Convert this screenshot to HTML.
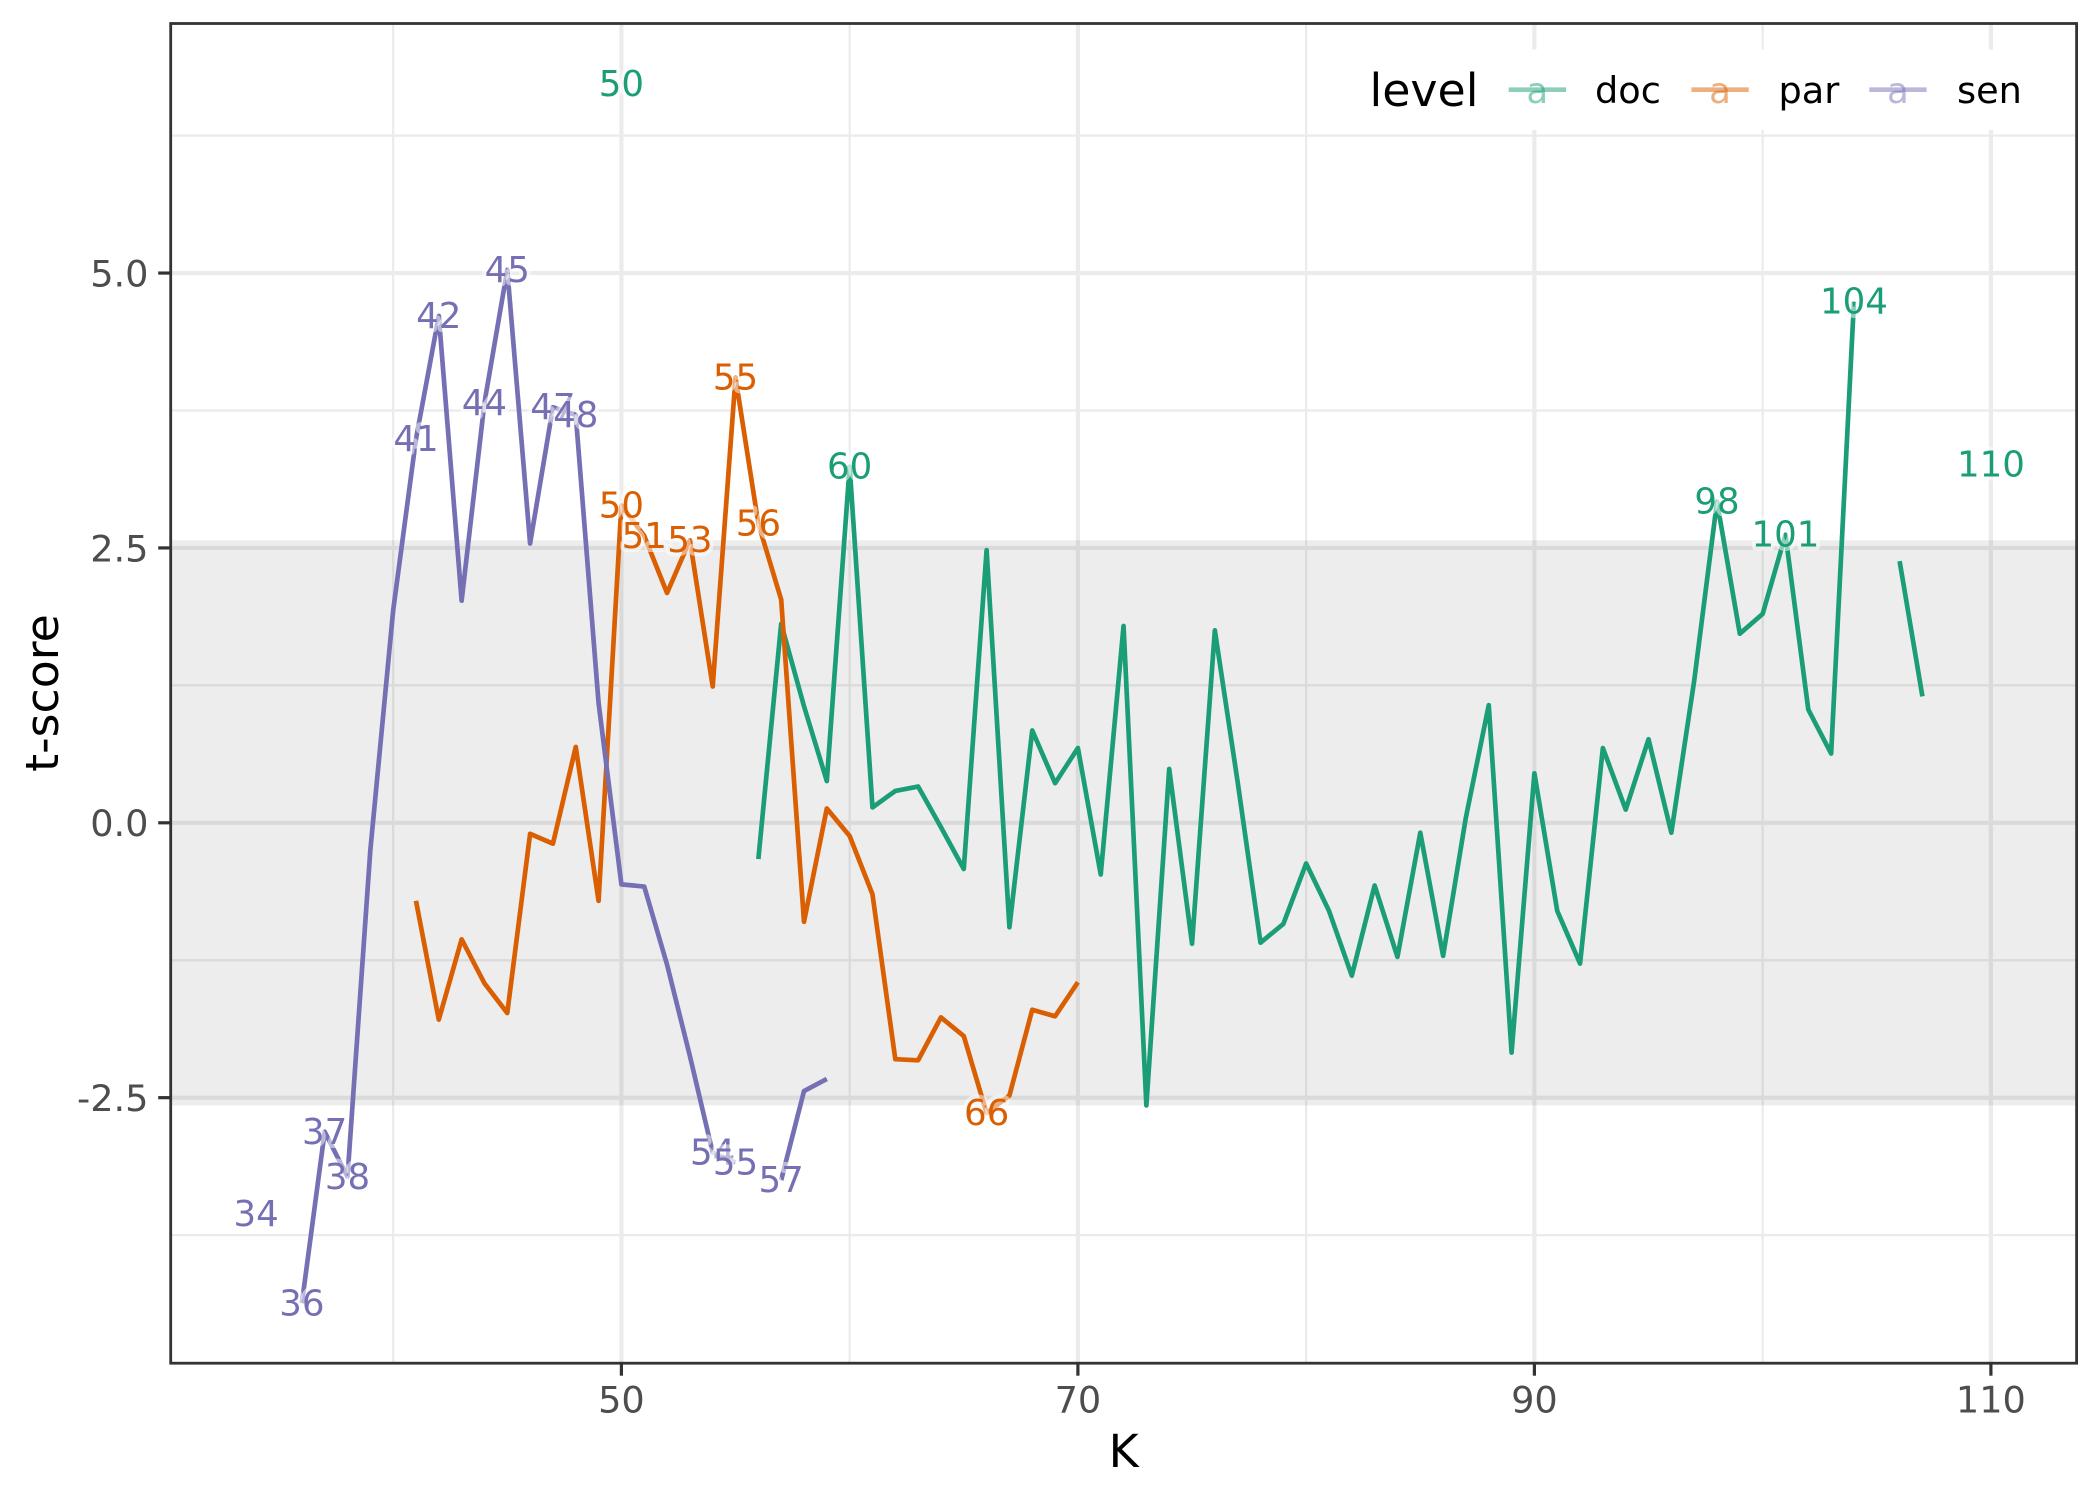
<!DOCTYPE html>
<html>
<head>
<meta charset="utf-8">
<title>t-score by K</title>
<style>
html,body{margin:0;padding:0;background:#fff;}
svg{display:block;font-family:"DejaVu Sans","Liberation Sans",sans-serif;}
</style>
</head>
<body>
<svg id="chart" xmlns="http://www.w3.org/2000/svg" width="2100" height="1500" viewBox="0 0 2100 1500"></svg>
<script>
const xTicks = [50, 70, 90, 110];
const xTickLabels = ['50', '70', '90', '110'];
const xMinor = [40, 60, 80, 100];
const yTicks = [-2.5, 0, 2.5, 5];
const yTickLabels = ['-2.5', '0.0', '2.5', '5.0'];
const yMinor = [-3.75, -1.25, 1.25, 3.75, 6.25];
const bandLimit = [-2.57, 2.57];

const docK = [50,56,57,58,59,60,61,62,63,64,65,66,67,68,69,70,71,72,73,74,75,76,77,78,79,80,81,82,83,84,85,86,87,88,89,90,91,92,93,94,95,96,97,98,99,100,101,102,103,104,106,107,110];
const docT = [6.72,-0.33,1.81,1.06,0.38,3.24,0.14,0.29,0.33,-0.04,-0.42,2.48,-0.95,0.84,0.36,0.68,-0.47,1.79,-2.57,0.49,-1.10,1.75,0.37,-1.09,-0.92,-0.37,-0.80,-1.39,-0.57,-1.22,-0.09,-1.21,0.05,1.07,-2.09,0.45,-0.80,-1.28,0.68,0.12,0.76,-0.09,1.29,2.92,1.72,1.90,2.62,1.03,0.63,4.74,2.38,1.15,3.26];
const docLabelK = [50,60,98,101,104,110];

const parK = [41,42,43,44,45,46,47,48,49,50,51,52,53,54,55,56,57,58,59,60,61,62,63,64,65,66,67,68,69,70];
const parT = [-0.71,-1.79,-1.06,-1.46,-1.73,-0.10,-0.19,0.69,-0.71,2.885,2.61,2.09,2.57,1.24,4.05,2.72,2.03,-0.90,0.13,-0.12,-0.65,-2.15,-2.16,-1.77,-1.94,-2.64,-2.48,-1.70,-1.76,-1.45];
const parLabelK = [50,51,53,55,56,66];

const senK = [34,36,37,38,39,40,41,42,43,44,45,46,47,48,49,50,51,52,53,54,55,57,58,59];
const senT = [-3.56,-4.37,-2.81,-3.22,-0.25,1.93,3.49,4.61,2.02,3.82,5.03,2.54,3.78,3.71,1.09,-0.56,-0.58,-1.29,-2.12,-3.00,-3.09,-3.25,-2.44,-2.33];
const senLabelK = [34,36,37,38,41,42,44,45,47,48,54,55,57];

const seriesNames = ['doc', 'par', 'sen'];
const seriesColors = ['#1B9E77', '#D95F02', '#7570B3'];

const NS = 'http://www.w3.org/2000/svg';
const svg = document.getElementById('chart');
const panel = {left: 170.7, right: 2076.6, top: 23.5, bottom: 1363.2};

function xScale(k) { return 621.4 + 22.825 * (k - 50); }
function yScale(t) { return 822.8 - 109.95 * t; }

function make(tag, attrs, parent, text) {
  const el = document.createElementNS(NS, tag);
  for (const key in attrs) el.setAttribute(key, attrs[key]);
  if (text !== undefined) el.textContent = text;
  (parent || svg).appendChild(el);
  return el;
}

/* panel background */
const panelBg = make('rect', {x: panel.left, y: panel.top, width: panel.right - panel.left, height: panel.bottom - panel.top, fill: '#fff'});



/* grid */
const grid = make('g', {});


yMinor.forEach(function (v) {
  const l = make('line', {x1: panel.left, x2: panel.right, y1: yScale(v), y2: yScale(v), stroke: '#EBEBEB', 'stroke-width': 2.2}, grid);
  
  
});
xMinor.forEach(function (k) {
  const l = make('line', {y1: panel.top, y2: panel.bottom, x1: xScale(k), x2: xScale(k), stroke: '#EBEBEB', 'stroke-width': 2.2}, grid);
  
  
});
yTicks.forEach(function (v) {
  const l = make('line', {x1: panel.left, x2: panel.right, y1: yScale(v), y2: yScale(v), stroke: '#EBEBEB', 'stroke-width': 4.2}, grid);
  
  
});
xTicks.forEach(function (k) {
  const l = make('line', {y1: panel.top, y2: panel.bottom, x1: xScale(k), x2: xScale(k), stroke: '#EBEBEB', 'stroke-width': 4.2}, grid);
  
  
});

/* significance band */
const band = make('rect', {x: panel.left, width: panel.right - panel.left, y: yScale(bandLimit[1]), height: yScale(bandLimit[0]) - yScale(bandLimit[1]), fill: '#000', 'fill-opacity': 0.07});



/* lines */
const seriesK = [docK, parK, senK];
const seriesT = [docT, parT, senT];
const seriesLabelK = [docLabelK, parLabelK, senLabelK];

seriesNames.forEach(function (name, i) {
  const ks = seriesK[i], ts = seriesT[i];
  let d = '';
  ks.forEach(function (k, j) {
    const joined = j > 0 && k - ks[j - 1] === 1;
    d += (joined ? 'L' : 'M') + xScale(k).toFixed(2) + ' ' + yScale(ts[j]).toFixed(2);
  });
  const path = make('path', {d: d, fill: 'none', stroke: seriesColors[i], 'stroke-width': 4.7, 'stroke-linejoin': 'round', 'stroke-linecap': 'butt'});
  
  
});

/* point labels */
seriesNames.forEach(function (name, i) {
  const g = make('g', {});
  
  
  seriesLabelK[i].forEach(function (k) {
    const t = seriesT[i][seriesK[i].indexOf(k)];
    const label = make('text', {
      x: xScale(k), y: yScale(t) + 12, 'text-anchor': 'middle', 'font-size': 35.6,
      fill: seriesColors[i], stroke: 'rgba(255,255,255,0.5)', 'stroke-width': 8,
      'stroke-linejoin': 'round', 'paint-order': 'stroke'
    }, g, String(k));
    
    
  });
});

/* panel border */
const border = make('rect', {x: panel.left, y: panel.top, width: panel.right - panel.left, height: panel.bottom - panel.top, fill: 'none', stroke: '#333333', 'stroke-width': 2.8});



/* axes */
const xAxis = make('g', {});


xTicks.forEach(function (k, i) {
  const tick = make('line', {x1: xScale(k), x2: xScale(k), y1: panel.bottom, y2: panel.bottom + 12.5, stroke: '#333333', 'stroke-width': 3.2}, xAxis);
  
  
  const lab = make('text', {x: xScale(k), y: 1412.5, 'text-anchor': 'middle', 'font-size': 36.67, fill: '#4D4D4D'}, xAxis, xTickLabels[i]);
  
  
});
const yAxis = make('g', {});


yTicks.forEach(function (v, i) {
  const tick = make('line', {x1: panel.left - 12.5, x2: panel.left, y1: yScale(v), y2: yScale(v), stroke: '#333333', 'stroke-width': 3.2}, yAxis);
  
  
  const lab = make('text', {x: 148.5, y: yScale(v) + 13.4, 'text-anchor': 'end', 'font-size': 36.67, fill: '#4D4D4D'}, yAxis, yTickLabels[i]);
  
  
});

const xTitle = make('text', {x: 1123.6, y: 1467, 'text-anchor': 'middle', 'font-size': 45.83, fill: '#000'}, svg, 'K');


const yTitle = make('text', {x: 0, y: 0, transform: 'translate(58 693) rotate(-90)', 'text-anchor': 'middle', 'font-size': 45.83, fill: '#000'}, svg, 't-score');



/* legend */
const legend = make('g', {});


const legendBg = make('rect', {x: 1362, y: 49.5, width: 670, height: 80.5, fill: '#fff'}, legend);


const legendTitle = make('text', {x: 1369.5, y: 106, 'font-size': 45.83, fill: '#000'}, legend, 'level');


const legendKeyStart = [1508.7, 1691.4, 1869.3];
const legendTextStart = [1595, 1778.5, 1957];
seriesNames.forEach(function (name, i) {
  const entry = make('g', {}, legend);
  
  
  const x0 = legendKeyStart[i];
  const keyLine = make('line', {x1: x0, x2: x0 + 57.3, y1: 89.7, y2: 89.7, stroke: seriesColors[i], 'stroke-opacity': 0.5, 'stroke-width': 4.7}, entry);
  
  
  const keyGlyph = make('text', {x: x0 + 28.6, y: 103, 'text-anchor': 'middle', 'font-size': 35.6, fill: seriesColors[i], 'fill-opacity': 0.5}, entry, 'a');
  
  
  const keyText = make('text', {x: legendTextStart[i], y: 103, 'font-size': 36.67, fill: '#000'}, entry, name);
  
  
});
</script>
</body>
</html>
